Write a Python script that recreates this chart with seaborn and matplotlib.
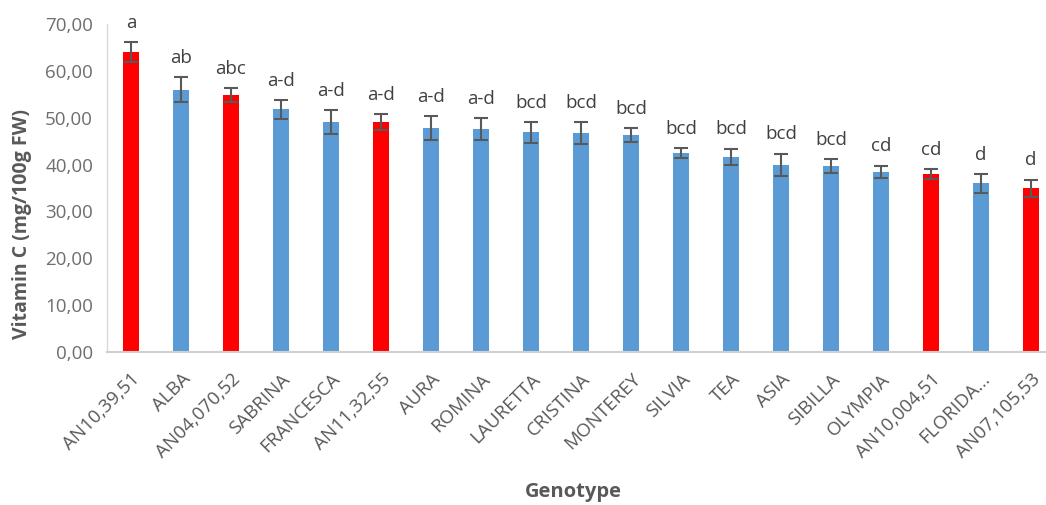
import matplotlib
matplotlib.use("Agg")
import matplotlib.pyplot as plt
import seaborn as sns
import pandas as pd

# Vitamin C content per genotype (mg/100g FW), mean and standard error
genotypes = ["AN10,39,51", "ALBA", "AN04,070,52", "SABRINA", "FRANCESCA",
             "AN11,32,55", "AURA", "ROMINA", "LAURETTA", "CRISTINA",
             "MONTEREY", "SILVIA", "TEA", "ASIA", "SIBILLA", "OLYMPIA",
             "AN10,004,51", "FLORIDA...", "AN07,105,53"]
vitamin_c = [64.0, 56.0, 54.8, 51.8, 49.1, 49.1, 47.8, 47.6, 46.9, 46.7,
             46.3, 42.4, 41.7, 39.9, 39.7, 38.5, 38.0, 36.0, 34.9]
std_err = [2.1, 2.6, 1.5, 2.0, 2.5, 1.7, 2.6, 2.3, 2.2, 2.3,
           1.4, 1.1, 1.7, 2.4, 1.5, 1.3, 1.0, 2.0, 1.9]
letters = ["a", "ab", "abc", "a-d", "a-d", "a-d", "a-d", "a-d", "bcd", "bcd",
           "bcd", "bcd", "bcd", "bcd", "bcd", "cd", "cd", "d", "d"]
is_advanced_line = [True, False, True, False, False, True, False, False, False,
                    False, False, False, False, False, False, False, True,
                    False, True]

df = pd.DataFrame({"Genotype": genotypes, "VitC": vitamin_c,
                   "SE": std_err, "Letter": letters,
                   "Line": is_advanced_line})

RED = "#FF0000"
BLUE = "#5B9BD5"
palette = {g: (RED if line else BLUE) for g, line in zip(genotypes, is_advanced_line)}

sns.set_theme(style="white")
plt.rcParams["font.family"] = ["Open Sans", "DejaVu Sans"]

fig = plt.figure(figsize=(10.46, 5.05), dpi=100)
ax = fig.add_axes([107 / 1046, 153 / 505, 1 - 107 / 1046, (481 - 153) / 505])

sns.barplot(data=df, x="Genotype", y="VitC", hue="Genotype", palette=palette,
            width=0.32, legend=False, errorbar=None, saturation=1,
            edgecolor="none", ax=ax)

xs = range(len(genotypes))
ax.errorbar(xs, df["VitC"], yerr=df["SE"], fmt="none", ecolor="#595959",
            elinewidth=1.5, capsize=5, capthick=1.5, zorder=3)

for x, v, se, lab in zip(xs, df["VitC"], df["SE"], df["Letter"]):
    ax.text(x, v + se + 2.2, lab, ha="center", va="bottom",
            fontsize=13.5, color="#404040")

ax.set_xlim(-0.48, 18.3)
ax.set_ylim(0, 70)
ax.set_yticks(range(0, 71, 10))
ax.set_yticklabels([f"{t:.2f}".replace(".", ",") for t in range(0, 71, 10)],
                   fontsize=13.5, color="#6E6E6E")
ax.set_xticks(list(xs))
ax.set_xticklabels(genotypes, rotation=45, ha="right", rotation_mode="anchor",
                   fontsize=13.5, color="#595959")
ax.tick_params(axis="x", length=0, pad=13)
ax.tick_params(axis="y", length=0, pad=10)

for side in ["top", "right"]:
    ax.spines[side].set_visible(False)
ax.spines["left"].set_color("#D9D9D9")
ax.spines["left"].set_linewidth(1.0)
ax.spines["bottom"].set_color("#D0D0D0")
ax.spines["bottom"].set_linewidth(1.5)

ax.set_ylabel("Vitamin C (mg/100g FW)", fontsize=14, fontweight="bold",
              color="#595959")
ax.yaxis.set_label_coords(-0.080, 0.39)
ax.set_xlabel("")
fig.text(573 / 1046, 1 - 492 / 505, "Genotype", ha="center", va="center",
         fontsize=14.5, fontweight="bold", color="#595959")

fig.savefig("out.png", dpi=100)
